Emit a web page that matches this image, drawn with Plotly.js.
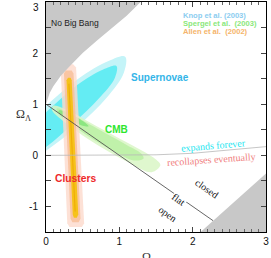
<!DOCTYPE html>
<html>
<head>
<meta charset="utf-8">
<script src="https://cdn.plot.ly/plotly-3.0.1.min.js"></script>
<style>html,body{margin:0;padding:0;background:#fff;}#chart{width:271px;height:258px;}</style>
</head>
<body>
<div id="chart"></div>
<script>
// ---- data (Omega_M, Omega_Lambda) ----
var noBigBangM = [0, 0.02, 0.05, 0.1, 0.2, 0.3, 0.4, 0.5, 0.7, 0.9, 1.1, 1.29, 1.29, -0.1, -0.1, 0];
var noBigBangL = [1, 1.11, 1.22, 1.35, 1.55, 1.71, 1.86, 2.0, 2.25, 2.49, 2.73, 3.0, 3.2, 3.2, 1, 1];

var cornerM = [2.03, 3.05, 3.05];
var cornerL = [-1.6, -0.29, -1.6];

var flatM = [0, 2.28];
var flatL = [1, -1.28];

var expandM = [0, 1, 1.5, 2, 2.5, 3];
var expandL = [0, 0, 0.01, 0.04, 0.10, 0.17];

var snOuterM = [1.08, 0.86, 0.44, -0.03, -0.45, -0.69, -0.70, -0.49, -0.06, 0.43, 0.83, 1.06, 1.08];
var snOuterL = [1.93, 1.85, 1.50, 0.93, 0.35, -0.11, -0.36, -0.32, 0.03, 0.57, 1.13, 1.61, 1.93];
var snInnerM = [0.96, 0.78, 0.43, 0.03, -0.33, -0.56, -0.58, -0.40, -0.04, 0.37, 0.72, 0.94, 0.96];
var snInnerL = [1.75, 1.68, 1.38, 0.88, 0.37, -0.03, -0.24, -0.19, 0.12, 0.62, 1.11, 1.52, 1.75];

var cmbOuterM = [0.1, 0.3, 0.6, 1.0, 1.3, 1.5, 1.56, 1.44, 1.1, 0.8, 0.5, 0.25, 0.08, 0.1];
var cmbOuterL = [0.97, 0.88, 0.64, 0.33, 0.1, -0.08, -0.19, -0.33, -0.12, 0.12, 0.39, 0.65, 0.89, 0.97];
var cmbMidM = [0.15, 0.4, 0.8, 1.1, 1.3, 1.33, 1.2, 0.9, 0.55, 0.3, 0.15, 0.15];
var cmbMidL = [0.92, 0.76, 0.44, 0.2, 0.03, -0.06, -0.1, 0.1, 0.4, 0.65, 0.86, 0.92];
var cmbCoreM = [0.18, 0.35, 0.55, 0.58, 0.5, 0.3, 0.17, 0.18];
var cmbCoreL = [0.88, 0.8, 0.62, 0.57, 0.58, 0.72, 0.85, 0.88];

var clOuterM = [0.20, 0.24, 0.37, 0.41, 0.52, 0.49, 0.32, 0.29, 0.20];
var clOuterL = [1.72, 1.78, 1.78, 1.72, -1.33, -1.40, -1.40, -1.33, 1.72];
var clMidM = [0.245, 0.27, 0.35, 0.375, 0.47, 0.445, 0.36, 0.335, 0.245];
var clMidL = [1.60, 1.66, 1.66, 1.60, -1.24, -1.31, -1.31, -1.24, 1.60];
var clInnerM = [0.28, 0.30, 0.335, 0.35, 0.44, 0.42, 0.38, 0.365, 0.28];
var clInnerL = [1.47, 1.52, 1.52, 1.47, -1.16, -1.22, -1.22, -1.16, 1.47];
var clCoreM = [0.305, 0.32, 0.405, 0.39, 0.305];
var clCoreL = [1.4, 1.4, -1.1, -1.1, 1.4];

var xTickVals = [0, 1, 2, 3];
var xTickText = ['0', '1', '2', '3'];
var yTickVals = [-1, 0, 1, 2];
var yTickText = ['-1', '0', '1', '2'];
var yTopLabel = '3';

// ---- traces ----
function area(x, y, color, opacity, smooth) {
  return {x: x, y: y, type: 'scatter', mode: 'lines', fill: 'toself',
    fillcolor: color, opacity: opacity,
    line: {width: 0, color: color, shape: smooth ? 'spline' : 'linear', smoothing: 1},
    hoverinfo: 'skip', showlegend: false};
}
function line(x, y, color, width) {
  return {x: x, y: y, type: 'scatter', mode: 'lines',
    line: {color: color, width: width}, hoverinfo: 'skip', showlegend: false};
}

var traces = [
  area(snOuterM, snOuterL, '#c4f4f8', 1, true),
  area(snInnerM, snInnerL, '#64ecf3', 1, true),
  area(cmbOuterM, cmbOuterL, '#d9f6c6', 0.85, true),
  area(cmbMidM, cmbMidL, '#bdf0a6', 0.9, true),
  area(cmbCoreM, cmbCoreL, '#86e47c', 0.9, true),
  area(clOuterM, clOuterL, '#fcd9cc', 0.8, false),
  area(clMidM, clMidL, '#f8c09a', 0.85, false),
  area(clInnerM, clInnerL, '#f6c21a', 1, false),
  area(clCoreM, clCoreL, '#eea400', 0.75, false),
  line(expandM, expandL, '#b8b8b8', 0.8),
  line(flatM, flatL, '#555555', 0.9),
  area(noBigBangM, noBigBangL, '#c8c8c8', 1, false),
  area(cornerM, cornerL, '#c8c8c8', 1, false)
];

var serif = 'Liberation Serif, Times New Roman, serif';
var sans = 'Liberation Sans, Arial, sans-serif';

function label(text, x, y, size, color, fam, angle, extra) {
  var a = {text: text, x: x, y: y, xref: 'x', yref: 'y', showarrow: false,
    font: {size: size, color: color, family: fam}, textangle: angle || 0};
  if (extra) for (var k in extra) a[k] = extra[k];
  return a;
}

var annotations = [
  label('No Big Bang', 0.39, 2.59, 8.5, '#222', sans),
  label('<b>Knop et al. (2003)</b>', 1.84, 2.73, 7.6, '#8ccdf0', sans, 0, {xanchor: 'left'}),
  label('<b>Spergel et al.  (2003)</b>', 1.84, 2.58, 7.6, '#8ae87a', sans, 0, {xanchor: 'left'}),
  label('<b>Allen et al.  (2002)</b>', 1.84, 2.43, 7.6, '#f5b46a', sans, 0, {xanchor: 'left'}),
  label('<b>Supernovae</b>', 1.56, 1.53, 10, '#33b5e8', sans),
  label('<b>CMB</b>', 0.96, 0.5, 10, '#2ee62e', sans),
  label('<b>Clusters</b>', 0.40, -0.46, 10.3, '#ee2a2a', sans),
  label('expands forever', 2.29, 0.19, 10, '#1ee6f0', serif, -5),
  label('recollapses eventually', 2.25, -0.08, 10, '#f08080', serif, -4),
  label('closed', 2.19, -0.65, 10, '#111', serif, 35),
  label('flat', 1.81, -0.86, 10, '#111', serif, 35, {bgcolor: '#ffffff', borderpad: 0}),
  label('open', 1.65, -1.14, 10, '#111', serif, 35),
  {text: yTopLabel, x: 0, y: 3, xref: 'paper', yref: 'y', xanchor: 'right', yanchor: 'middle',
    xshift: -5, yshift: -5, showarrow: false, font: {size: 10, color: '#111', family: sans}},
  {text: 'Ω<sub>Λ</sub>', x: -0.145, y: 0.51, xref: 'paper', yref: 'paper', showarrow: false,
    font: {size: 12, color: '#333', family: serif}},
  {text: 'Ω<sub>M</sub>', x: 0.473, y: -0.155, xref: 'paper', yref: 'paper', showarrow: false,
    font: {size: 12, color: '#333', family: serif}}
];

var axisCommon = {
  showline: true, linecolor: '#000', linewidth: 1, mirror: 'ticks',
  ticks: 'inside', ticklen: 5, tickcolor: '#444', tickwidth: 1,
  showgrid: false, zeroline: false, tickmode: 'array',
  tickfont: {size: 10, color: '#111', family: sans}
};

var layout = {
  width: 271, height: 258,
  margin: {l: 46, r: 5, t: 2, b: 26},
  paper_bgcolor: '#fff', plot_bgcolor: '#fff',
  showlegend: false,
  xaxis: Object.assign({}, axisCommon, {
    range: [0, 3], tickvals: xTickVals, ticktext: xTickText,
    minor: {tickmode: 'linear', tick0: 0, dtick: 0.1, ticks: 'inside', ticklen: 3, tickcolor: '#666'}
  }),
  yaxis: Object.assign({}, axisCommon, {
    range: [-1.5, 3], tickvals: yTickVals, ticktext: yTickText, ticklabelstandoff: 5,
    minor: {tickmode: 'linear', tick0: 0, dtick: 0.5, ticks: 'inside', ticklen: 5, tickcolor: '#444'}
  }),
  annotations: annotations
};

Plotly.newPlot('chart', traces, layout, {staticPlot: true, displayModeBar: false});
</script>
</body>
</html>
